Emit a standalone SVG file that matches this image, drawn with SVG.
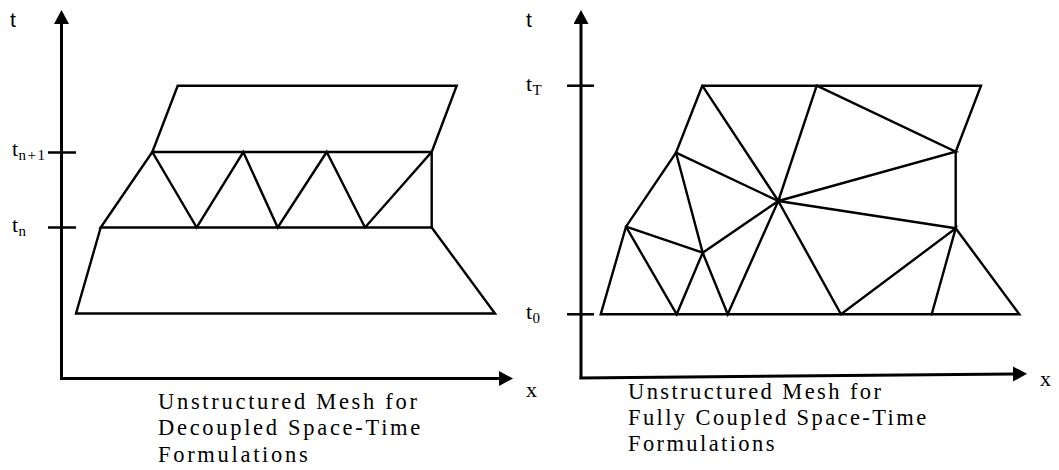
<svg xmlns="http://www.w3.org/2000/svg" width="1059" height="470" viewBox="0 0 1059 470">
<style>
.axis{stroke:#000;stroke-width:3;fill:none}
.tick{stroke:#000;stroke-width:2.5;fill:none}
.mesh{stroke:#000;stroke-width:2.4;fill:none;stroke-linejoin:miter;stroke-linecap:round}
.cap{font-family:"Liberation Serif","Times New Roman",serif;font-size:22.5px;fill:#000}
.lab{font-family:"Liberation Serif","Times New Roman",serif;font-size:22px;fill:#000}
.sub{font-family:"Liberation Serif","Times New Roman",serif;font-size:15px;fill:#000}
.ax{font-family:"Liberation Sans",Arial,sans-serif;font-size:21px;fill:#000}
</style>
<defs>
<marker id="arr" markerUnits="userSpaceOnUse" markerWidth="16" markerHeight="16" refX="0" refY="7.5" orient="auto" viewBox="0 0 16 16">
<path d="M0,0 L14,7.5 L0,15 z" fill="#000"/>
</marker>
</defs>
<rect width="1059" height="470" fill="#fff"/>

<g id="left-panel">
  <g id="left-axes">
    <path class="axis" d="M61.5,378.5 L61.5,24" marker-end="url(#arr)"/>
    <path class="axis" d="M60,378.5 L499,378.5" marker-end="url(#arr)"/>
    <path class="tick" d="M48,152.5 L76,152.5"/>
    <path class="tick" d="M48,227.5 L76,227.5"/>
  </g>
  <g id="left-mesh">
    <path class="mesh" d="M177.7,85.7 L456.7,85.7 L431.7,152 L152.3,152 Z"/>
    <path class="mesh" d="M100.7,227.5 L152.3,152 L196.7,227.5 L243.3,152 L277.7,227.5 L326.7,152 L365,227.5 L431.7,152 L431.7,227.5 Z"/>
    <path class="mesh" d="M100.7,227.5 L76,313.5 L495,313.5 L431.7,227.5"/>
  </g>
  <g id="left-labels">
    <text class="ax" x="10" y="27">t</text>
    <text class="lab" x="12" y="156">t</text><text class="sub" x="18.5" y="159.5" letter-spacing="1.5">n+1</text>
    <text class="lab" x="12" y="232">t</text><text class="sub" x="18.5" y="235.5">n</text>
    <text class="lab" x="526" y="397">x</text>
    <text class="cap" x="158" y="409" letter-spacing="2.7">Unstructured Mesh for</text>
    <text class="cap" x="158" y="435" letter-spacing="2.7">Decoupled Space-Time</text>
    <text class="cap" x="158" y="462" letter-spacing="2.7">Formulations</text>
  </g>
</g>

<g id="right-panel">
  <g id="right-axes">
    <path class="axis" d="M581,378.5 L581,24" marker-end="url(#arr)"/>
    <path class="axis" d="M579.5,378 L1013,374" marker-end="url(#arr)"/>
    <path class="tick" d="M567,85.7 L594,85.7"/>
    <path class="tick" d="M567,314.3 L594,314.3"/>
  </g>
  <g id="right-mesh">
    <path class="mesh" d="M702.3,85.7 L981,85.7 L955.7,151.7 L955.7,228.3 L1019.3,314.3 L600.7,314.3 L626,226.7 L676,152.7 Z"/>
    <path class="mesh" d="M702.3,85.7 L778.3,201 L816.7,85.7"/>
    <path class="mesh" d="M816.7,85.7 L955.7,151.7 L778.3,201 L955.7,228.3"/>
    <path class="mesh" d="M676,152.7 L778.3,201"/>
    <path class="mesh" d="M676,152.7 L702.7,252.7 L626,226.7"/>
    <path class="mesh" d="M626,226.7 L676.7,314.3 L702.7,252.7 L727.7,314.3 L778.3,201 L702.7,252.7"/>
    <path class="mesh" d="M778.3,201 L841,314.3 L955.7,228.3 L931.7,314.3"/>
  </g>
  <g id="right-labels">
    <text class="ax" x="526" y="27">t</text>
    <text class="lab" x="526" y="91">t</text><text class="sub" x="532.5" y="94.5">T</text>
    <text class="lab" x="526" y="319">t</text><text class="sub" x="532.5" y="322.5">0</text>
    <text class="lab" x="1040" y="386">x</text>
    <text class="cap" x="628" y="399" letter-spacing="2.4">Unstructured Mesh for</text>
    <text class="cap" x="628" y="425" letter-spacing="2.4">Fully Coupled Space-Time</text>
    <text class="cap" x="628" y="451" letter-spacing="2.4">Formulations</text>
  </g>
</g>
</svg>
